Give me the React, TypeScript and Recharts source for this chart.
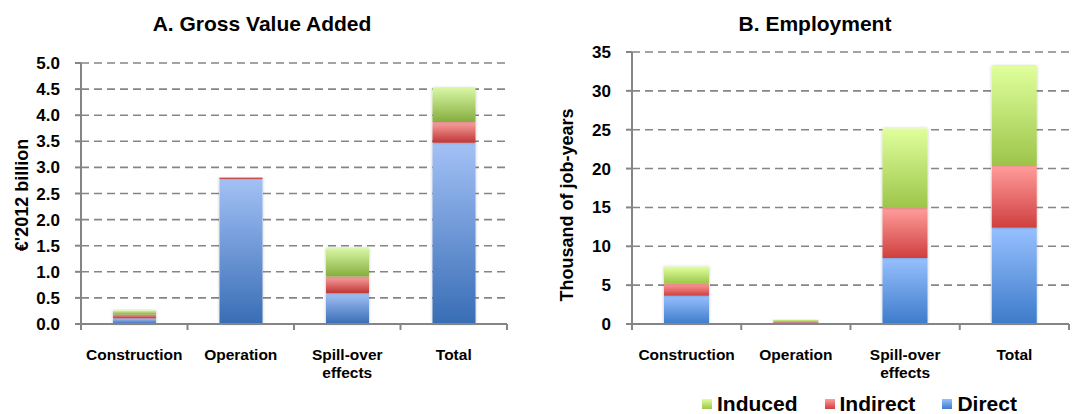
import React from 'react';
import { BarChart, Bar, XAxis, YAxis, CartesianGrid } from 'recharts';

const categories = ['Construction', 'Operation', 'Spill-over effects', 'Total'];
const gvaDirect = [0.11, 2.78, 0.59, 3.47];
const gvaIndirect = [0.07, 0.03, 0.32, 0.4];
const gvaInduced = [0.08, 0.0, 0.54, 0.65];
const empDirect = [3.64, 0.2, 8.5, 12.37];
const empIndirect = [1.54, 0.15, 6.43, 8.08];
const empInduced = [2.18, 0.2, 10.23, 12.75];
const gvaTicks = [0, 0.5, 1, 1.5, 2, 2.5, 3, 3.5, 4, 4.5, 5];
const empTicks = [0, 5, 10, 15, 20, 25, 30, 35];
const legendNames = ['Induced', 'Indirect', 'Direct'];

const FONT = '"Liberation Sans", Arial, Helvetica, sans-serif';
const GRID = '#858585';

const gvaData = categories.map((c, i) => ({
  name: c,
  Direct: gvaDirect[i],
  Indirect: gvaIndirect[i],
  Induced: gvaInduced[i],
}));
const empData = categories.map((c, i) => ({
  name: c,
  Direct: empDirect[i],
  Indirect: empIndirect[i],
  Induced: empInduced[i],
}));

const palette: Record<string, { top: string; bottom: string }> = {
  Direct: { top: '#a3c1f6', bottom: '#386db5' },
  Indirect: { top: '#faa3a2', bottom: '#be3535' },
  Induced: { top: '#d8f6a4', bottom: '#86ad3e' },
};
const palette2: Record<string, { top: string; bottom: string }> = {
  Direct: { top: '#97c0ff', bottom: '#3d7bca' },
  Indirect: { top: '#ff9e9c', bottom: '#cf3f3e' },
  Induced: { top: '#e0ff9c', bottom: '#9dc54a' },
};

function Gradients({ prefix, pal }: { prefix: string; pal: Record<string, { top: string; bottom: string }> }) {
  return (
    <defs>
      {Object.keys(pal).map((k) => (
        <linearGradient key={k} id={`${prefix}-${k}`} x1="0" y1="0" x2="0" y2="1">
          <stop offset="0%" stopColor={pal[k].top} />
          <stop offset="100%" stopColor={pal[k].bottom} />
        </linearGradient>
      ))}
      <filter id={`${prefix}-shadow`} x="-20%" y="-20%" width="140%" height="140%">
        <feDropShadow dx="0" dy="0" stdDeviation="1.5" floodColor="#000" floodOpacity="0.25" />
      </filter>
    </defs>
  );
}

function CatTick(props: any) {
  const { x, y, payload, index, visibleTicksCount } = props;
  const v: string = payload.value;
  const half: number = payload.offset || 0;
  const lines = v.length > 12 ? v.split(' ') : [v];
  const last = index === (visibleTicksCount ?? categories.length) - 1;
  return (
    <g>
      <line x1={x - half} y1={y} x2={x - half} y2={y + 6} stroke={GRID} strokeWidth={2} />
      {last && <line x1={x + half} y1={y} x2={x + half} y2={y + 6} stroke={GRID} strokeWidth={2} />}
      <text x={x} y={y + 36} textAnchor="middle" fontFamily={FONT} fontWeight="bold" fontSize={15.5} fill="#000">
        {lines.map((l, i) => (
          <tspan key={i} x={x} dy={i === 0 ? 0 : 18}>
            {l}
          </tspan>
        ))}
      </text>
    </g>
  );
}

const tickStyle = { fontFamily: FONT, fontWeight: 'bold', fontSize: 17, fill: '#000' } as any;

function Panel({
  data,
  prefix,
  pal,
  width,
  marginTop,
  marginRight,
  yWidth,
  domain,
  ticks,
  fmt,
  barSize,
}: any) {
  return (
    <BarChart
      width={width}
      height={414}
      data={data}
      margin={{ top: marginTop, right: marginRight, bottom: 40, left: 0 }}
      barSize={barSize}
    >
      <Gradients prefix={prefix} pal={pal} />
      <CartesianGrid vertical={false} stroke={GRID} strokeWidth={1.6} strokeDasharray="8 5" />
      <XAxis
        dataKey="name"
        height={50}
        axisLine={{ stroke: GRID, strokeWidth: 2 }}
        tickLine={false}
        tickSize={0}
        tickMargin={0}
        interval={0}
        tick={<CatTick />}
      />
      <YAxis
        width={yWidth}
        domain={domain}
        ticks={ticks}
        interval={0}
        tickFormatter={fmt}
        tick={tickStyle}
        tickSize={6}
        tickMargin={15}
        axisLine={{ stroke: GRID, strokeWidth: 2 }}
        tickLine={{ stroke: GRID, strokeWidth: 2 }}
      />
      {['Direct', 'Indirect', 'Induced'].map((k) => (
        <Bar
          key={k}
          dataKey={k}
          stackId="s"
          fill={`url(#${prefix}-${k})`}
          filter={`url(#${prefix}-shadow)`}
          isAnimationActive={false}
        />
      ))}
    </BarChart>
  );
}

export default function App() {
  return (
    <div
      style={{
        position: 'absolute',
        left: 0,
        top: 0,
        width: 1075,
        height: 414,
        background: '#fff',
        overflow: 'hidden',
        fontFamily: FONT,
      }}
    >
      <div style={{ position: 'absolute', left: 0, top: 0 }}>
        <Panel
          data={gvaData}
          prefix="gva"
          pal={palette}
          width={540}
          marginTop={63}
          marginRight={33}
          yWidth={81}
          domain={[0, 5]}
          ticks={gvaTicks}
          fmt={(v: number) => v.toFixed(1)}
          barSize={43}
        />
      </div>
      <div style={{ position: 'absolute', left: 540, top: 0 }}>
        <Panel
          data={empData}
          prefix="emp"
          pal={palette2}
          width={535}
          marginTop={52}
          marginRight={6}
          yWidth={92}
          domain={[0, 35]}
          ticks={empTicks}
          fmt={(v: number) => String(v)}
          barSize={45}
        />
      </div>
      <svg width={1075} height={414} style={{ position: 'absolute', left: 0, top: 0, pointerEvents: 'none' }}>
        <text x={262} y={31} textAnchor="middle" fontFamily={FONT} fontWeight="bold" fontSize={21}>
          A. Gross Value Added
        </text>
        <text x={815} y={31} textAnchor="middle" fontFamily={FONT} fontWeight="bold" fontSize={21}>
          B. Employment
        </text>
        <text
          transform="translate(28,195) rotate(-90)"
          textAnchor="middle"
          fontFamily={FONT}
          fontWeight="bold"
          fontSize={18}
        >
          €'2012 billion
        </text>
        <text
          transform="translate(573,205) rotate(-90)"
          textAnchor="middle"
          fontFamily={FONT}
          fontWeight="bold"
          fontSize={18}
        >
          Thousand of job-years
        </text>
      </svg>
      <div
        style={{
          position: 'absolute',
          left: 702,
          top: 393,
          display: 'flex',
          gap: 27,
          fontWeight: 'bold',
          fontSize: 21,
          lineHeight: '21px',
        }}
      >
        {legendNames.map((n) => (
          <div key={n} style={{ display: 'flex', alignItems: 'flex-start' }}>
            <div
              style={{
                width: 10,
                height: 10,
                marginTop: 6,
                marginRight: 5,
                background: `linear-gradient(${palette2[n].top}, ${palette2[n].bottom})`,
              }}
            />
            <span>{n}</span>
          </div>
        ))}
      </div>
    </div>
  );
}
